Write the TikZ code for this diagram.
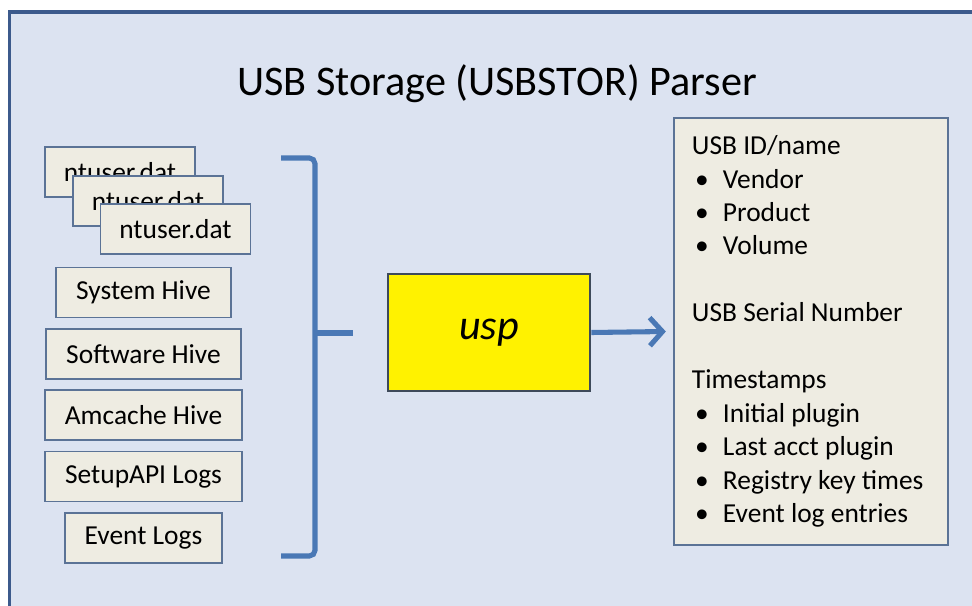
\documentclass[tikz,border=0pt]{standalone}
\usepackage{fontspec}
\setmainfont{Carlito}
\usetikzlibrary{arrows.meta}
\definecolor{framebg}{HTML}{DCE3F1}
\definecolor{frameline}{HTML}{3C5A8C}
\definecolor{boxfill}{HTML}{EEECE2}
\definecolor{boxline}{HTML}{5B7396}
\definecolor{bracecol}{HTML}{4A78B5}
\definecolor{uspline}{HTML}{3E4A5A}
\tikzset{
    srcbox/.style={draw=boxline, fill=boxfill, line width=1.3pt, inner sep=0pt,
        minimum height=1.25cm, font=\fontsize{19.5}{23}\selectfont},
    toolbox/.style={draw=uspline, fill=yellow, line width=1.8pt, inner sep=0pt,
        minimum width=5.05cm, minimum height=2.925cm, font=\fontsize{30}{34}\selectfont\itshape},
    outbox/.style={draw=boxline, fill=boxfill, line width=1.3pt, inner xsep=0.45cm, inner ysep=0pt,
        text width=5.95cm, minimum height=10.675cm, align=left, font=\fontsize{19.5}{23.8}\selectfont,
        execute at begin node={\spaceskip=0pt\relax}}
}
\newcommand{\blt}{\makebox[0.775cm][l]{\hspace{0.08cm}\textbullet}}

\begin{document}
\begin{tikzpicture}[x=0.025cm, y=-0.025cm, >=Stealth]
    \useasboundingbox (0,0) rectangle (972,605);
    \clip (0,0) rectangle (972,605);
    % Hintergrund
    \fill[framebg] (10,12) rectangle (980,610);
    \draw[frameline, line width=2.6pt] (9.5,610) -- (9.5,12) -- (980,12);

    % Titel
    \node[font=\fontsize{30}{34}\selectfont] (title) at (497,84) {USB Storage (USBSTOR) Parser};

    % Eingaben
    \node[srcbox, minimum width=3.75cm] (nt1) at (120,172) {ntuser.dat};
    \node[srcbox, minimum width=3.75cm] (nt2) at (148,201) {ntuser.dat};
    \node[srcbox, minimum width=3.75cm] (nt3) at (175.5,229) {ntuser.dat};
    \node[srcbox, minimum width=4.375cm] (sys) at (143.5,292.5) {System Hive};
    \node[srcbox, minimum width=4.875cm] (soft) at (143.5,354) {Software Hive};
    \node[srcbox, minimum width=4.925cm] (amc) at (143.5,415) {Amcache Hive};
    \node[srcbox, minimum width=4.925cm] (setup) at (143.5,476.5) {SetupAPI Logs};
    \node[srcbox, minimum width=3.925cm] (evt) at (143.5,538) {Event Logs};

    % Klammer
    \draw[bracecol, line width=3.6pt, rounded corners=4pt] (281,158) -| (315,333) |- (281,556);
    \draw[bracecol, line width=3.6pt] (315,333) -- (353,333);

    % Werkzeug und Ergebnis
    \node[toolbox] (usp) at (489,332.5) {usp};
    \node[outbox] (out) at (811,331.5) {USB ID/name\\
        \blt Vendor\\
        \blt Product\\
        \blt Volume\\[23.8pt]
        USB Serial Number\\[23.8pt]
        Timestamps\\
        \blt Initial plugin\\
        \blt Last acct plugin\\
        \blt Registry key times\\
        \blt Event log entries};
    \coordinate (outin) at ([xshift=-0.18cm]out.west);

    % Pfeil
    \draw[bracecol, line width=3.6pt, -{Straight Barb[length=9pt, width=20pt, line width=3.6pt]}] (usp.east) -- (outin);
\end{tikzpicture}
\end{document}
